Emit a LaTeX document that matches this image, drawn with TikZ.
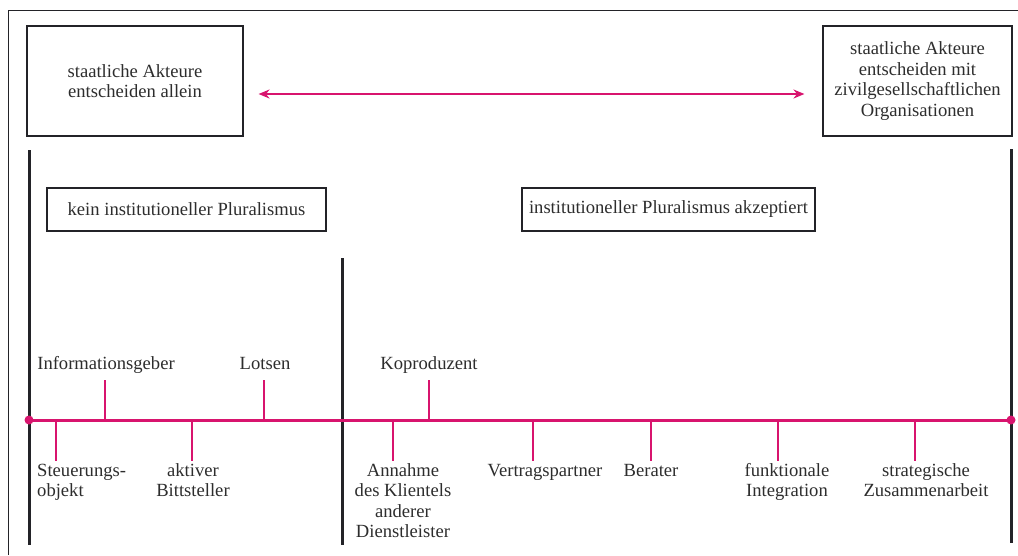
\documentclass[tikz,border=0pt]{standalone}
\usepackage{fontspec}
\setmainfont{Liberation Serif}
\usetikzlibrary{arrows.meta}
\definecolor{pinkline}{RGB}{216,20,110}
\definecolor{darkline}{RGB}{35,35,40}
\definecolor{txt}{RGB}{45,45,45}
\begin{document}
\begin{tikzpicture}[x=1pt,y=-1pt,
  every node/.style={font=\fontsize{18.6}{20.5}\selectfont, text=txt},
  frame/.style={draw=darkline, line width=1pt},
  bigbox/.style={draw=darkline, line width=1.1pt, align=center, inner sep=0pt},
  axisline/.style={draw=darkline, line width=3pt},
  timeline/.style={draw=pinkline, line width=3pt},
  tickline/.style={draw=pinkline, line width=1.5pt},
  lbl/.style={align=center, anchor=base, inner sep=0pt},
  arr/.style={draw=pinkline, line width=2.6pt, {Stealth[length=11pt,width=9pt]}-{Stealth[length=11pt,width=9pt]}}
]
\useasboundingbox (0,0) rectangle (1018,555);
% outer frame (open to right and bottom)
\draw[frame] (8,555) -- (8,10) -- (1018,10);

% top boxes
\node[bigbox, minimum width=216pt, minimum height=110pt] (b1) at (135,81)
  {staatliche Akteure\\entscheiden allein};
\node[bigbox, minimum width=189pt, minimum height=110pt] (b2) at (917.5,81)
  {staatliche Akteure\\entscheiden mit\\zivilgesellschaftlichen\\Organisationen};
\draw[arr, shorten <=15pt, shorten >=18pt] ([yshift=-13pt]b1.east) -- ([yshift=-13pt]b2.west);

% vertical axes
\coordinate (vLt) at (29,150); \coordinate (vLb) at (29,545);
\coordinate (vRt) at (1011,149); \coordinate (vRb) at (1011,543);
\coordinate (vMt) at (342,258); \coordinate (vMb) at (342,545);
\draw[axisline] (vLt) -- (vLb);
\draw[axisline] (vRt) -- (vRb);
\draw[axisline] (vMt) -- (vMb);

% section boxes
\node[bigbox, minimum width=279pt, minimum height=43pt] (k1) at (186.5,209.5)
  {kein institutioneller Pluralismus};
\node[bigbox, minimum width=293pt, minimum height=43pt] (k2) at (668.5,209.5)
  {institutioneller Pluralismus akzeptiert};

% timeline
\coordinate (tL) at (29,420);
\coordinate (tR) at (1011,420);
\draw[timeline] (tL) -- (tR);
\fill[pinkline] (tL) circle (4.5pt);
\fill[pinkline] (tR) circle (4.5pt);

% upper ticks and labels
\coordinate (u1) at (105,420);
\coordinate (u2) at (264,420);
\coordinate (u3) at (429,420);
\draw[tickline] (u1) -- ++(0,-40);
\draw[tickline] (u2) -- ++(0,-40);
\draw[tickline] (u3) -- ++(0,-40);
\node[lbl] (lu1) at (106,369) {Informationsgeber};
\node[lbl] (lu2) at (265,369) {Lotsen};
\node[lbl] (lu3) at (429,369) {Koproduzent};

% lower ticks and labels (base anchor = baseline of last line)
\coordinate (d1) at (56,420);
\coordinate (d2) at (192,420);
\coordinate (d3) at (393,420);
\coordinate (d4) at (533,420);
\coordinate (d5) at (651,420);
\coordinate (d6) at (778,420);
\coordinate (d7) at (915,420);
\foreach \c in {d1,d2,d3,d4,d5,d6,d7} {\draw[tickline] (\c) -- ++(0,41);}
\node[lbl, align=left, anchor=base west] (ld1) at (37,496.5) {Steuerungs-\\objekt};
\node[lbl] (ld2) at (193,496.5) {aktiver\\Bittsteller};
\node[lbl] (ld3) at (403,537.5) {Annahme\\des Klientels\\anderer\\Dienstleister};
\node[lbl] (ld4) at (545,476) {Vertragspartner};
\node[lbl] (ld5) at (651,476) {Berater};
\node[lbl] (ld6) at (787,496.5) {funktionale\\Integration};
\node[lbl] (ld7) at (926,496.5) {strategische\\Zusammenarbeit};
\end{tikzpicture}
\end{document}
